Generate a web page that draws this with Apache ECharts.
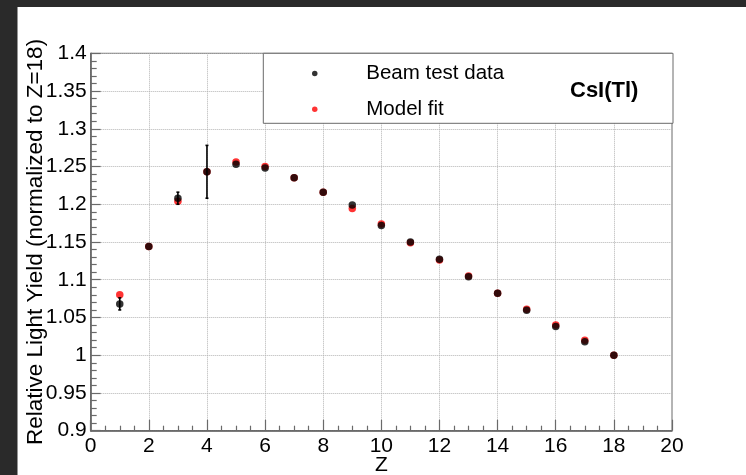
<!DOCTYPE html>
<html>
<head>
<meta charset="utf-8">
<script src="https://cdn.jsdelivr.net/npm/echarts@6/dist/echarts.min.js"></script>
<style>
  html, body { margin: 0; padding: 0; background: #ffffff; overflow: hidden; width: 746px; height: 475px; }
  #chart { width: 746px; height: 475px; }
</style>
</head>
<body>
<div id="chart"></div>
<script>
// Atomic number of the beam ions
const zValues = [1, 2, 3, 4, 5, 6, 7, 8, 9, 10, 11, 12, 13, 14, 15, 16, 17, 18];
// Measured relative light yield (normalised to Z = 18) and its uncertainty
const beamYield = [1.068, 1.144, 1.208, 1.243, 1.253, 1.248, 1.235, 1.216, 1.199, 1.172, 1.150, 1.127, 1.104, 1.082, 1.0595, 1.038, 1.018, 1.000];
const beamError = [0.008, 0, 0.008, 0.035, 0, 0, 0, 0, 0, 0, 0, 0, 0, 0, 0, 0, 0, 0];
// Quenching model prediction
const modelYield = [1.080, 1.144, 1.204, 1.243, 1.256, 1.250, 1.235, 1.216, 1.1945, 1.174, 1.149, 1.126, 1.105, 1.082, 1.061, 1.040, 1.0198, 1.000];

const legendNames = ['Beam test data', 'Model fit'];
const crystalLabel = 'CsI(Tl)';
const xTitle = 'Z';
const yTitle = 'Relative Light Yield (normalized to Z=18)';

const FONT = '"Liberation Sans", Arial, Helvetica, sans-serif';

const beamPoints = zValues.map((z, i) => [z, beamYield[i]]);
const modelPoints = zValues.map((z, i) => [z, modelYield[i]]);
const errorBars = zValues
  .map((z, i) => [z, beamYield[i] - beamError[i], beamYield[i] + beamError[i], beamError[i]])
  .filter(d => d[3] > 0);

const chart = echarts.init(document.getElementById('chart'), null, { renderer: 'canvas' });

const option = {
  animation: false,
  backgroundColor: '#ffffff',
  textStyle: { fontFamily: FONT },
  grid: {
    left: 90.7, top: 53.3, right: 74, bottom: 44.3,
    outerBoundsMode: 'none',
    containLabel: false,
    show: true, borderColor: '#6a6a6a', borderWidth: 1, backgroundColor: 'transparent'
  },
  title: {
    text: crystalLabel,
    left: 570, top: 80, padding: 0, z: 10,
    textStyle: { fontFamily: FONT, fontSize: 22, fontWeight: 'bold', color: '#000' }
  },
  legend: {
    data: legendNames,
    orient: 'vertical',
    left: 307, top: 58,
    itemWidth: 93, itemHeight: 5.5, itemGap: 14.7,
    selectedMode: false,
    z: 10,
    textStyle: { fontFamily: FONT, fontSize: 20.5, color: '#000', lineHeight: 20 }
  },
  graphic: [
    { type: 'rect', z: -10, silent: true, shape: { x: 0, y: 0, width: 746, height: 7 }, style: { fill: '#2a2a2a' } },
    { type: 'rect', z: -10, silent: true, shape: { x: 0, y: 0, width: 17.5, height: 475 }, style: { fill: '#2a2a2a' } },
    { type: 'rect', z: 3, silent: true, shape: { x: 263.3, y: 53.3, width: 409.7, height: 70 },
      style: { fill: '#ffffff', stroke: '#6a6a6a', lineWidth: 1 } }
  ],
  xAxis: {
    type: 'value',
    min: 0, max: 20, interval: 2,
    name: xTitle,
    nameLocation: 'middle',
    nameGap: 24,
    nameMoveOverlap: false,
    nameTextStyle: { fontFamily: FONT, fontSize: 21, color: '#000' },
    axisLine: { show: true, onZero: false, lineStyle: { color: '#5a5a5a', width: 1.5 } },
    axisTick: { show: true, inside: true, length: 11, lineStyle: { color: '#6a6a6a', width: 1.2 } },
    minorTick: { show: true, splitNumber: 4, length: 5, lineStyle: { color: '#6a6a6a', width: 1.2 } },
    axisLabel: { margin: 5, fontFamily: FONT, fontSize: 21, color: '#000' },
    splitLine: { show: true, lineStyle: { color: '#b4b4b4', type: 'dotted', width: 1 } }
  },
  yAxis: {
    type: 'value',
    min: 0.9, max: 1.4, interval: 0.05,
    name: yTitle,
    nameLocation: 'middle',
    nameRotate: 90,
    nameGap: 43,
    nameMoveOverlap: false,
    nameTextStyle: { fontFamily: FONT, fontSize: 22.5, color: '#000' },
    axisLine: { show: true, onZero: false, lineStyle: { color: '#5a5a5a', width: 1.5 } },
    axisTick: { show: true, inside: true, length: 10, lineStyle: { color: '#6a6a6a', width: 1.2 } },
    minorTick: { show: true, splitNumber: 5, length: 6, lineStyle: { color: '#6a6a6a', width: 1.2 } },
    axisLabel: { margin: 4, fontFamily: FONT, fontSize: 21, color: '#000' },
    splitLine: { show: true, lineStyle: { color: '#b4b4b4', type: 'dotted', width: 1 } }
  },
  series: [
    {
      name: 'Model fit',
      type: 'scatter',
      data: modelPoints,
      symbol: 'circle',
      symbolSize: 7.5,
      itemStyle: { color: '#ff0000' },
      z: 2
    },
    {
      name: 'errors',
      type: 'custom',
      data: errorBars,
      z: 3,
      renderItem: function (params, api) {
        const x = api.value(0);
        const lo = api.coord([x, api.value(1)]);
        const hi = api.coord([x, api.value(2)]);
        const st = { stroke: '#000', lineWidth: 1.6 };
        return {
          type: 'group',
          children: [
            { type: 'line', shape: { x1: lo[0], y1: lo[1], x2: hi[0], y2: hi[1] }, style: st },
            { type: 'line', shape: { x1: lo[0] - 1.5, y1: lo[1], x2: lo[0] + 1.5, y2: lo[1] }, style: st },
            { type: 'line', shape: { x1: hi[0] - 1.5, y1: hi[1], x2: hi[0] + 1.5, y2: hi[1] }, style: st }
          ]
        };
      }
    },
    {
      name: 'Beam test data',
      type: 'scatter',
      data: beamPoints,
      symbol: 'circle',
      symbolSize: 7.5,
      itemStyle: { color: '#000000' },
      z: 4
    }
  ]
};

chart.setOption(option);
</script>
</body>
</html>
